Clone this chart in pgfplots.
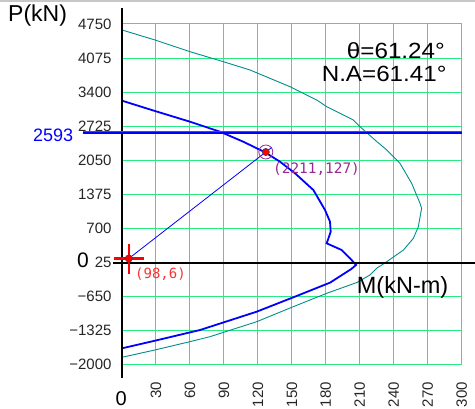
\documentclass[border=0pt]{standalone}
\usepackage{fontspec}
\setmainfont{Liberation Sans}
\newfontfamily\monofont{DejaVu Sans Mono}
\newfontfamily\widefont{Liberation Sans}[FakeStretch=1.1]
\usepackage{pgfplots}
\pgfplotsset{compat=1.18}
\definecolor{gridgreen}{RGB}{40,235,130}
\definecolor{curveteal}{RGB}{0,140,140}
\definecolor{ptpurple}{RGB}{150,40,150}
\definecolor{lblred}{RGB}{250,50,50}

\begin{document}
\begin{tikzpicture}
\useasboundingbox (0pt,0pt) rectangle (475pt,409pt);
\fill[black!22] (0pt,407pt) rectangle (475pt,409pt);
\begin{axis}[
    at={(122pt,44.7pt)}, anchor=south west,
    scale only axis,
    width=339.7pt, height=340.3pt,
    xmin=0, xmax=300,
    ymin=-2000, ymax=4750,
    clip=false,
    axis line style={draw=none},
    tick style={draw=none},
    xtick={30,60,...,300},
    xticklabels={30,60,90,120,150,180,210,240,270,300},
    ytick={-2000,-1325,-650,25,700,1375,2050,2725,3400,4075,4750},
    yticklabels={−2000,−1325,−650,25,700,1375,2050,2725,3400,4075,4750},
    grid=major,
    major grid style={gridgreen, line width=1pt},
    ticklabel style={font=\fontsize{15}{15}\selectfont, inner sep=0pt, text=black!85},
    yticklabel style={anchor=east},
    yticklabel shift=10.3pt,
    xticklabel style={rotate=90, anchor=east},
    xticklabel shift=17.7pt,
]

% outer interaction curve
\addplot[curveteal, line width=0.9pt] coordinates {
    (0,4631) (29.1,4433) (60,4201) (89.5,4002) (113,3838) (148.4,3506)
    (171.9,3243) (180.8,3110) (204.3,2846) (210.2,2713) (223.4,2449)
    (233.8,2251) (245.5,1986) (255.8,1590) (263.2,1193) (264.6,1094)
    (261.7,729) (257.3,498) (248.5,266) (233.8,35) (224.9,-96) (219,-228)
    (207.5,-377) (180.8,-592) (151.3,-857) (119,-1155) (77.7,-1452)
    (60,-1551) (29.1,-1716) (0,-1861)
};

% design curve
\addplot[blue, line width=1.8pt] coordinates {
    (0,3229) (29.1,3024) (60,2812) (86.5,2614) (107.1,2415) (126.3,2205)
    (139.5,2019) (152.8,1788) (169,1457) (179.3,1060) (183.7,828)
    (184.3,630) (180.8,399) (194,267) (201.4,102) (206.7,-30)
    (202.5,-110) (183.7,-381) (151.3,-671) (119,-956) (68.9,-1320)
    (29.1,-1532) (0,-1683)
};

% axes through the origin
\draw[black, line width=2pt] (axis cs:0,5067) -- (axis cs:0,-2272);
\draw[black, line width=2pt] (axis cs:-8,0) -- (axis cs:312,0);

% Pmax line
\addplot[blue!75, line width=3.2pt] coordinates {(-34.4,2593) (300,2593)};
\addplot[blue, line width=2pt] coordinates {(-34.4,2593) (300,2593)};

% load point and its ray
\addplot[red, only marks, mark=+, mark size=15pt, mark options={line width=2.5pt}] coordinates {(6,98)};
\addplot[blue, line width=0.8pt] coordinates {(6,98) (132.3,2303)};
\addplot[only marks, mark=o, mark size=7pt, mark options={draw=ptpurple, line width=0.8pt}] coordinates {(127,2211)};
\addplot[only marks, mark=*, mark size=3.6pt, mark options={fill=red, draw=black!75, line width=0.6pt}] coordinates {(6,98) (127,2211)};

\end{axis}

\node[anchor=base west, inner sep=0pt, font=\fontsize{23}{23}\selectfont] at (8pt,387.3pt) {P(kN)};
\node[anchor=base east, inner sep=0pt, font=\widefont\fontsize{22}{22}\selectfont] at (445pt,350.7pt) {θ=61.24°};
\node[anchor=base east, inner sep=0pt, font=\widefont\fontsize{22}{22}\selectfont] at (446.7pt,327.3pt) {N.A=61.41°};
\node[anchor=base west, inner sep=0pt, font=\fontsize{23.5}{23.5}\selectfont] at (356.7pt,115.7pt) {M(kN-m)};
\node[anchor=base, inner sep=0pt, font=\fontsize{21}{21}\selectfont] at (83pt,141pt) {0};
\node[anchor=base, inner sep=0pt, font=\fontsize{20}{20}\selectfont] at (121.3pt,3pt) {0};
\node[anchor=base east, inner sep=0pt, text=blue, font=\fontsize{18}{18}\selectfont] at (73.3pt,267.3pt) {2593};
\node[anchor=base west, inner sep=0pt, text=lblred, font=\monofont\fontsize{14}{14}\selectfont] at (135pt,130.7pt) {(98,6)};
\node[anchor=base west, inner sep=0pt, text=ptpurple, font=\monofont\fontsize{14.4}{14.4}\selectfont] at (273pt,235.7pt) {(2211,127)};
\end{tikzpicture}
\end{document}
